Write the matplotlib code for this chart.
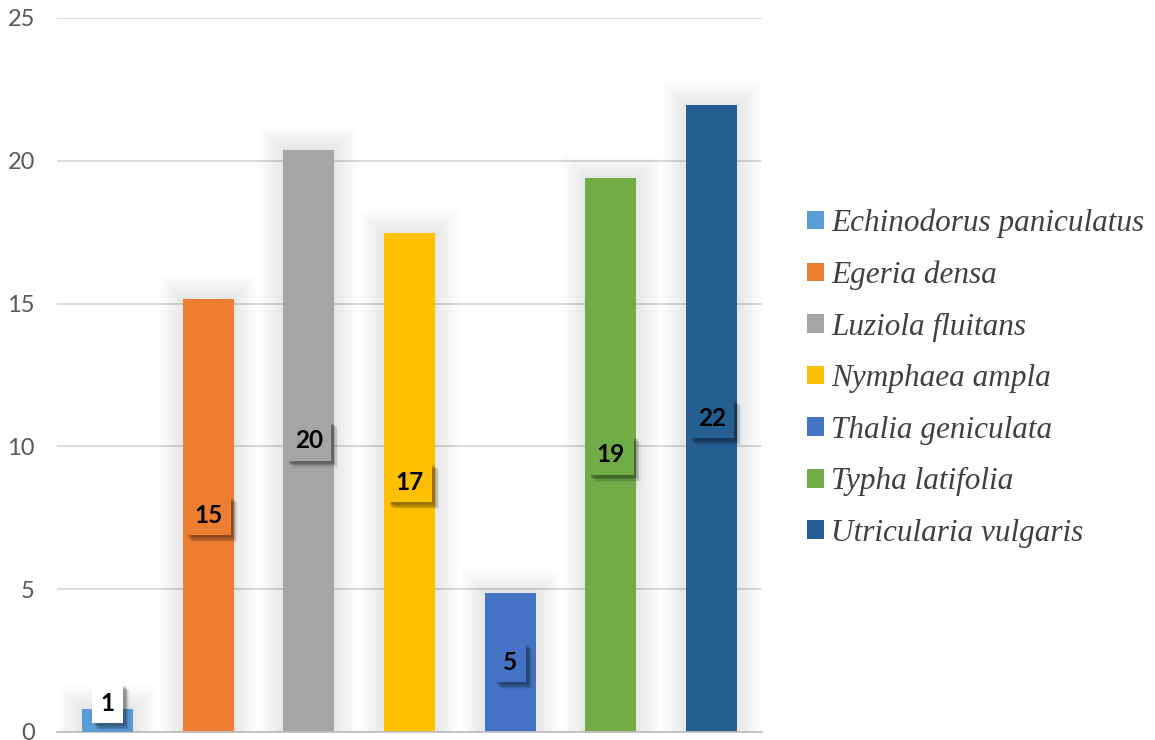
import matplotlib
matplotlib.use("Agg")
import matplotlib.pyplot as plt
from matplotlib import patheffects as pe
from matplotlib.patches import Patch

species = ["Echinodorus paniculatus", "Egeria densa", "Luziola fluitans",
           "Nymphaea ampla", "Thalia geniculata", "Typha latifolia",
           "Utricularia vulgaris"]
values = [0.8, 15.17, 20.39, 17.48, 4.87, 19.4, 21.96]
labels = ["1", "15", "20", "17", "5", "19", "22"]
colors = ["#5B9BD5", "#ED7D31", "#A5A5A5", "#FFC000", "#4472C4", "#70AD47", "#255E91"]
yticks = [0, 5, 10, 15, 20, 25]

fig = plt.figure(figsize=(11.55, 7.4), dpi=100)
ax = fig.add_axes([57/1155, 8/740, (762-57)/1155, (732-18)/740])

x = list(range(len(values)))
w = 0.505

# soft glow behind bars
px_x = 1/100.8
px_y = 1/28.55
for k in range(1, 13):
    ax.bar(x, [v + 2*k*px_y for v in values], width=w + 2*2*k*px_x,
           color="#000000", alpha=0.006, zorder=1, linewidth=0)

bars = ax.bar(x, values, width=w, color=colors, zorder=3, linewidth=0)

shadow = [pe.SimplePatchShadow(offset=(o, -o), shadow_rgbFace="black", alpha=a)
          for o, a in [(5, 0.06), (4, 0.10), (3, 0.14), (2, 0.16)]] + [pe.Normal()]

for xi, v, lab, c in zip(x, values, labels, colors):
    ypos = max(v/2, 1.0)
    above = ypos > v/2 + 1e-9
    t = ax.text(xi, ypos, lab, ha="center", va="center", fontsize=17.5,
                fontweight="bold", family=["Lato", "DejaVu Sans"], color="black",
                zorder=6,
                bbox=dict(boxstyle="square,pad=0.35",
                          facecolor=("white" if above else c), edgecolor="none"))
    t.get_bbox_patch().set_path_effects(shadow)
    if above:
        ax.bar([xi], [v], width=w, color=c, zorder=5.5, linewidth=0, alpha=0.85)

ax.set_xlim(-0.5, 6.5)
ax.set_ylim(0, 25)
ax.set_yticks(yticks)
ax.set_xticks([])
ax.yaxis.grid(True, color="#d9d9d9", linewidth=1.3, zorder=0)
ax.set_axisbelow(True)
for s in ["top", "right", "left"]:
    ax.spines[s].set_visible(False)
ax.spines["bottom"].set_color("#bfbfbf")
ax.spines["bottom"].set_linewidth(1.3)
ax.spines["bottom"].set_zorder(4)
ax.tick_params(axis="y", length=0, pad=16, labelsize=17, labelcolor="#595959")
for tl in ax.get_yticklabels():
    tl.set_family(["Lato", "DejaVu Sans"])

handles = [Patch(facecolor=c, edgecolor="none") for c in colors]
leg = fig.legend(handles, species, loc="center left", bbox_to_anchor=(0.6745, 0.489),
                 frameon=False, handlelength=0.55, handleheight=0.55, handletextpad=0.22,
                 labelspacing=0.72,
                 prop=dict(family=["Liberation Serif", "DejaVu Serif"], style="italic", size=22.5))
for t in leg.get_texts():
    t.set_color("#404040")

fig.savefig("out.png", dpi=100)
